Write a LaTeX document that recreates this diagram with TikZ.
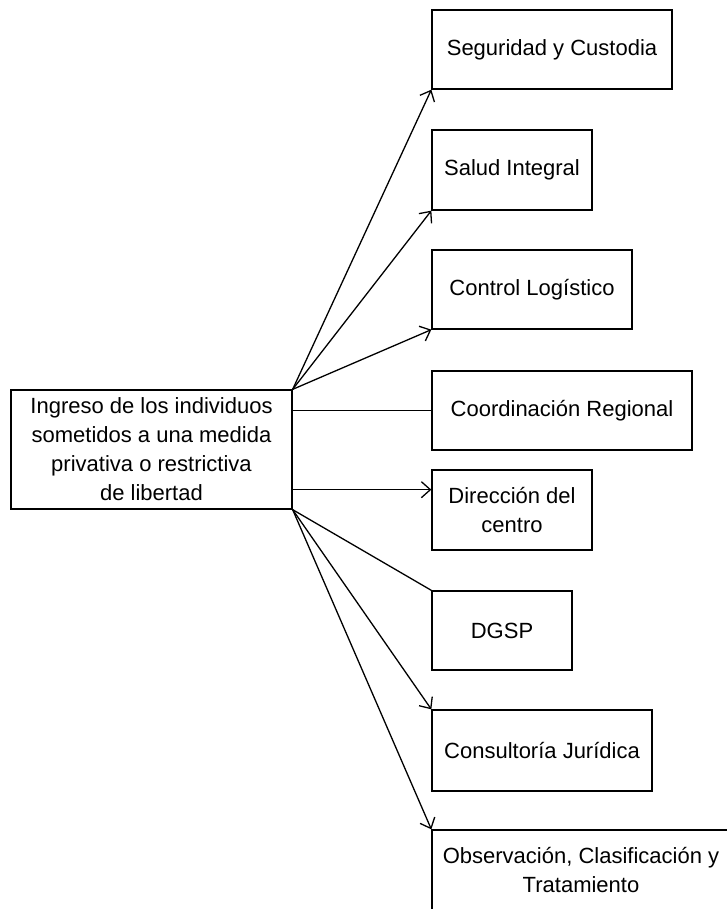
\documentclass[tikz,border=0pt]{standalone}
\usepackage{fontspec}
\setmainfont{Liberation Sans}
\usetikzlibrary{arrows.meta,calc}
\begin{document}
\begin{tikzpicture}[x=1pt,y=-1pt,
  box/.style={draw, line width=1.3pt, rectangle, inner sep=0pt, align=center, font=\fontsize{22}{29}\selectfont},
  link/.style={line width=1.3pt},
  arr/.style={link, -{Straight Barb[length=9pt,width=16pt]}}]
\useasboundingbox (0,0) rectangle (727,909);
\clip (0,0) rectangle (727,909);
\fill[white] (0,0) rectangle (727,909);
\node[box, minimum width=281pt, minimum height=119pt] (main) at (151.5,449.5) {Ingreso de los individuos\\sometidos a una medida\\privativa o restrictiva\\de libertad};
\node[box, minimum width=240pt, minimum height=79pt] (seg) at (552,49.5) {Seguridad y Custodia};
\node[box, minimum width=160pt, minimum height=80pt] (sal) at (512,170) {Salud Integral};
\node[box, minimum width=200pt, minimum height=79pt] (ctl) at (532,289.5) {Control Logístico};
\node[box, minimum width=260pt, minimum height=79pt] (coord) at (562,410.5) {Coordinación Regional};
\node[box, minimum width=160pt, minimum height=80pt] (dir) at (512,510) {Dirección del\\centro};
\node[box, minimum width=140pt, minimum height=79pt] (dgsp) at (502,630.5) {DGSP};
\node[box, minimum width=220pt, minimum height=81pt] (cons) at (542,750.5) {Consultoría Jurídica};
\node[box, minimum width=298pt, minimum height=80pt] (obs) at (581,870) {Observación, Clasificación y\\Tratamiento};
\coordinate (dirin) at ($(dir.north west)!0.25!(dir.south west)$);
\draw[arr] (main.north east) -- (seg.south west);
\draw[arr] (main.north east) -- (sal.south west);
\draw[arr] (main.north east) -- (ctl.south west);
\draw[link] (coord.west -| main.east) -- (coord.west);
\draw[arr] (dirin -| main.east) -- (dirin);
\draw[link] (main.south east) -- (dgsp.north west);
\draw[arr] (main.south east) -- (cons.north west);
\draw[arr] (main.south east) -- (obs.north west);
\end{tikzpicture}
\end{document}
